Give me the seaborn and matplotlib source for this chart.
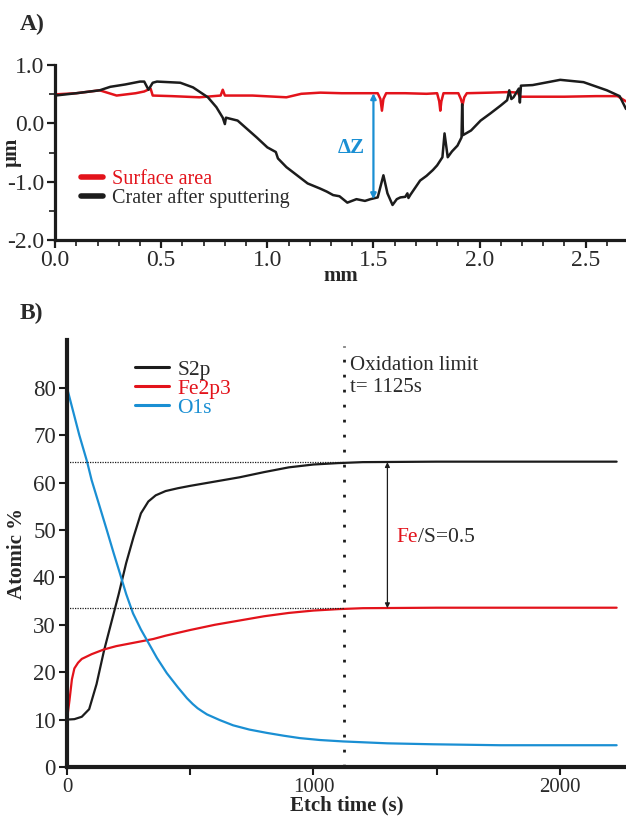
import numpy as np
import pandas as pd
import matplotlib
matplotlib.use("Agg")
import matplotlib.pyplot as plt
from matplotlib.ticker import MultipleLocator, FixedLocator
import seaborn as sns

sns.set_style("ticks")
plt.rcParams['font.family'] = ['Liberation Serif', 'DejaVu Serif']

RED = "#e3131b"
BLUE = "#1a8fd3"
BLACK = "#1c1c1c"
TXT = "#2a2a2a"

# ---------------- Panel A data (profilometry) ----------------
crater_x = [0.00, 0.10, 0.21, 0.26, 0.33, 0.40, 0.42, 0.44, 0.46, 0.48, 0.59, 0.65,
            0.72, 0.76, 0.79, 0.80, 0.805, 0.86, 0.95, 1.00, 1.04, 1.05, 1.09, 1.19,
            1.25, 1.28, 1.31, 1.34, 1.377, 1.42, 1.46, 1.486, 1.52, 1.547, 1.566, 1.59,
            1.61, 1.627, 1.65, 1.66, 1.665, 1.675, 1.72, 1.75, 1.78, 1.80, 1.825, 1.835,
            1.85, 1.87, 1.896, 1.915, 1.918, 1.922, 1.96, 2.005, 2.05, 2.10, 2.13, 2.14,
            2.15, 2.16, 2.185, 2.19, 2.195, 2.25, 2.38, 2.49, 2.60, 2.66, 2.69]
crater_y = [0.48, 0.52, 0.57, 0.63, 0.67, 0.72, 0.72, 0.58, 0.70, 0.72, 0.70, 0.62,
            0.45, 0.28, 0.10, -0.01, 0.10, 0.05, -0.24, -0.41, -0.49, -0.60, -0.75, -1.03,
            -1.12, -1.17, -1.23, -1.25, -1.36, -1.30, -1.33, -1.30, -1.27, -0.89, -1.20, -1.40,
            -1.30, -1.27, -1.26, -1.20, -1.28, -1.22, -0.98, -0.90, -0.80, -0.72, -0.58, -0.17,
            -0.58, -0.48, -0.38, -0.24, 0.33, -0.20, -0.12, 0.05, 0.17, 0.31, 0.40, 0.57,
            0.42, 0.45, 0.60, 0.36, 0.65, 0.66, 0.75, 0.71, 0.57, 0.47, 0.25]

surf_x = [0.00, 0.10, 0.21, 0.29, 0.38, 0.42, 0.45, 0.46, 0.55, 0.68, 0.78, 0.79, 0.80,
          0.93, 1.09, 1.16, 1.25, 1.35, 1.45, 1.52, 1.533, 1.54, 1.547, 1.56, 1.65, 1.75,
          1.80, 1.81, 1.815, 1.82, 1.83, 1.90, 1.912, 1.92, 1.928, 1.94, 2.05, 2.14, 2.18,
          2.19, 2.25, 2.40, 2.55, 2.65, 2.69]
surf_y = [0.50, 0.52, 0.57, 0.48, 0.52, 0.55, 0.60, 0.48, 0.47, 0.45, 0.48, 0.58, 0.48,
          0.48, 0.45, 0.51, 0.53, 0.52, 0.52, 0.52, 0.42, 0.22, 0.42, 0.52, 0.52, 0.51,
          0.52, 0.38, 0.22, 0.38, 0.52, 0.52, 0.42, 0.32, 0.45, 0.52, 0.53, 0.54, 0.53,
          0.46, 0.46, 0.46, 0.47, 0.47, 0.38]

a_xticks = [0.0, 0.5, 1.0, 1.5, 2.0, 2.5]
a_yticks = [1.0, 0.0, -1.0, -2.0]
dz_x = 1.5
dz_top, dz_bottom = 0.52, -1.30

# ---------------- Panel B data (XPS depth profile) ----------------
s2p_t = [0, 30, 60, 90, 120, 150, 180, 210, 240, 270, 300, 330, 360, 400, 450, 500,
         600, 700, 800, 900, 1000, 1100, 1200, 1500, 1800, 2230]
s2p_v = [10, 10.1, 10.6, 12.2, 17.5, 24.5, 30.5, 36.5, 43, 48.5, 53.5, 56, 57.3, 58.2,
         58.8, 59.3, 60.2, 61.1, 62.2, 63.2, 63.8, 64.1, 64.3, 64.4, 64.4, 64.4]

fe_t = [0, 10, 20, 30, 45, 60, 80, 100, 150, 200, 270, 350, 400, 500, 600, 700, 800,
        900, 1000, 1100, 1200, 1500, 1800, 2230]
fe_v = [10, 14, 18.5, 20.8, 22.0, 22.8, 23.3, 23.8, 24.8, 25.5, 26.2, 27.0, 27.7,
        28.9, 30.0, 30.9, 31.8, 32.5, 33.0, 33.3, 33.5, 33.6, 33.6, 33.6]

o1s_t = [0, 25, 50, 81, 100, 134, 162, 190, 215, 240, 268, 300, 325, 365, 405, 450,
         487, 510, 530, 550, 568, 620, 674, 740, 811, 880, 945, 1026, 1120, 1300, 1485,
         1757, 2000, 2230]
o1s_v = [80, 75, 70, 64.5, 60.5, 54.7, 49.9, 45, 40.8, 36.5, 32.4, 29, 26.7, 23, 19.8,
         16.8, 14.5, 13.3, 12.4, 11.7, 11.1, 9.9, 8.8, 7.9, 7.2, 6.6, 6.1, 5.7, 5.4, 5.0,
         4.8, 4.6, 4.6, 4.6]

b_xticks = [0, 1000, 2000]
b_yticks = [0, 10, 20, 30, 40, 50, 60, 70, 80]
ox_limit = 1125
s_level, fe_level = 64.3, 33.5
ratio_x = 1300

fig = plt.figure(figsize=(6.26, 8.16), dpi=100)

# ================= Panel A =================
axA = fig.add_axes([0.088, 0.706, 0.912, 0.214])
dfS = pd.DataFrame({"x": surf_x, "y": surf_y})
dfC = pd.DataFrame({"x": crater_x, "y": crater_y})
sns.lineplot(data=dfS, x="x", y="y", sort=False, estimator=None, color=RED, lw=1.8,
             ax=axA, label="Surface area")
sns.lineplot(data=dfC, x="x", y="y", sort=False, estimator=None, color=BLACK, lw=1.8,
             ax=axA, label="Crater after sputtering")
axA.set_xlim(0, 2.69)
axA.set_ylim(-2.0, 1.0)
axA.xaxis.set_major_locator(FixedLocator(a_xticks))
axA.xaxis.set_minor_locator(MultipleLocator(0.1))
axA.yaxis.set_major_locator(FixedLocator(a_yticks))
axA.yaxis.set_minor_locator(MultipleLocator(0.5))
axA.set_xticklabels([f"{v:.1f}" for v in a_xticks])
axA.set_yticklabels([f"{v:.1f}" for v in a_yticks])
for s in ["top", "right"]:
    axA.spines[s].set_visible(False)
for s in ["left", "bottom"]:
    axA.spines[s].set_linewidth(2.3)
    axA.spines[s].set_color(BLACK)
axA.tick_params(which="major", length=6, width=1.6, labelsize=17, colors=BLACK,
                labelcolor=TXT, pad=1.5)
axA.tick_params(which="minor", length=4, width=1.2, colors=BLACK)
axA.set_xlabel("mm", fontsize=15, fontweight="bold", labelpad=-4)
axA.set_ylabel("µm", fontsize=15, fontweight="bold")
axA.yaxis.set_label_coords(-0.058, 0.5)
leg = axA.legend(loc="upper left", bbox_to_anchor=(0.045, 0.40), frameon=False,
                 fontsize=14.5, handlelength=1.1, handletextpad=0.45, labelspacing=-0.05,
                 borderaxespad=0.0, borderpad=0.0)
for line in leg.get_lines():
    line.set_linewidth(4)
leg.get_texts()[0].set_color(RED)
leg.get_texts()[1].set_color(TXT)
axA.annotate("", xy=(dz_x, dz_bottom), xytext=(dz_x, dz_top),
             arrowprops=dict(arrowstyle="<|-|>", color=BLUE, lw=1.6,
                             mutation_scale=8, shrinkA=0, shrinkB=0))
axA.text(dz_x - 0.04, -0.42, "ΔZ", color=BLUE, fontsize=15, fontweight="bold",
         ha="right", va="center")
fig.text(0.032, 0.970, "A)", fontsize=17, fontweight="bold", color=TXT, va="center")

# ================= Panel B =================
axB = fig.add_axes([0.107, 0.060, 0.893, 0.523])
sns.lineplot(x=s2p_t, y=s2p_v, color=BLACK, lw=1.6, ax=axB, label="S2p")
sns.lineplot(x=fe_t, y=fe_v, color=RED, lw=1.6, ax=axB, label="Fe2p3")
sns.lineplot(x=o1s_t, y=o1s_v, color=BLUE, lw=1.6, ax=axB, label="O1s")
axB.set_xlim(0, 2268)
axB.set_ylim(0, 90)
axB.xaxis.set_major_locator(FixedLocator(b_xticks))
axB.xaxis.set_minor_locator(FixedLocator([500, 1500]))
axB.yaxis.set_major_locator(FixedLocator(b_yticks))
for s in ["top", "right"]:
    axB.spines[s].set_visible(False)
for s in ["left", "bottom"]:
    axB.spines[s].set_linewidth(3)
    axB.spines[s].set_color(BLACK)
axB.tick_params(which="major", length=6, width=1.5, colors=BLACK, labelcolor=TXT, pad=2)
axB.tick_params(axis="x", which="major", labelsize=15)
axB.tick_params(axis="y", which="major", labelsize=16.5)
axB.tick_params(which="minor", length=6, width=1.5, colors=BLACK)
axB.set_xlabel("Etch time (s)", fontsize=15, fontweight="bold", labelpad=-1)
axB.set_ylabel("Atomic %", fontsize=15, fontweight="bold")
axB.yaxis.set_label_coords(-0.071, 0.5)

# reference lines
axB.axvline(ox_limit, ymin=0, ymax=0.987, color=BLACK, lw=2.0, ls=(0, (1, 4.4)))
axB.plot([0, ox_limit], [s_level, s_level], color=BLACK, lw=0.9, ls=(0, (1, 1)))
axB.plot([0, ox_limit], [fe_level, fe_level], color=BLACK, lw=0.9, ls=(0, (1, 1)))
axB.annotate("", xy=(ratio_x, fe_level), xytext=(ratio_x, s_level),
             arrowprops=dict(arrowstyle="<|-|>", color=BLACK, lw=0.9,
                             mutation_scale=7, shrinkA=0, shrinkB=0))
axB.text(ox_limit + 22, 84.7, "Oxidation limit", fontsize=15, color=TXT, va="center")
axB.text(ox_limit + 22, 80.0, "t= 1125s", fontsize=15, color=TXT, va="center")
t1 = axB.text(ratio_x + 38, 48.4, "Fe", fontsize=15.5, color=RED, va="center")
fig.canvas.draw()
bb = t1.get_window_extent().transformed(axB.transData.inverted())
axB.text(bb.x1, 48.4, "/S=0.5", fontsize=15.5, color=TXT, va="center")

legB = axB.legend(loc="upper left", bbox_to_anchor=(0.122, 0.955), frameon=False,
                  fontsize=15.5, handlelength=1.55, handletextpad=0.4, labelspacing=-0.05,
                  borderaxespad=0.0, borderpad=0.0)
for line in legB.get_lines():
    line.set_linewidth(2.2)
for txt, c in zip(legB.get_texts(), [TXT, RED, BLUE]):
    txt.set_color(c)
fig.text(0.032, 0.616, "B)", fontsize=17, fontweight="bold", color=TXT, va="center")

fig.savefig("out.png", dpi=100, facecolor="white")
